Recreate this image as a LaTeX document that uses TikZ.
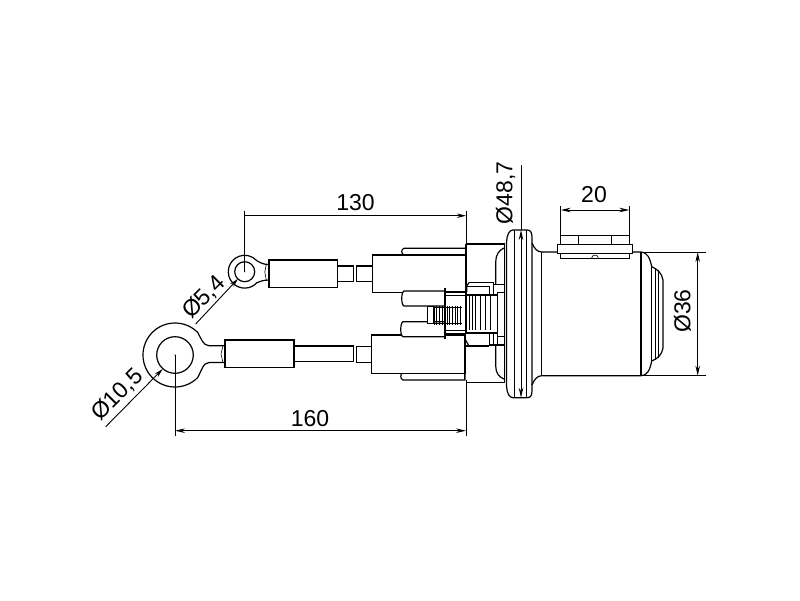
\documentclass[tikz,border=0pt]{standalone}
\usepackage{fontspec}
\setmainfont{Liberation Sans}
\usetikzlibrary{arrows.meta}
\tikzset{
  part/.style={draw=black,line width=1.2pt,fill=white},
  edge/.style={draw=black,line width=1.2pt},
  thin edge/.style={draw=black,line width=0.6pt},
  dim/.style={draw=black,line width=0.9pt},
  dimboth/.style={dim,{Stealth[length=10pt,width=4.5pt]}-{Stealth[length=10pt,width=4.5pt]}},
  dimtip/.style={dim,-{Stealth[length=9pt,width=4.5pt]}},
  dimtext/.style={font=\fontsize{23}{24}\selectfont,inner sep=0pt}
}
\begin{document}
\begin{tikzpicture}[x=1pt,y=-1pt]
  \useasboundingbox (0,0) rectangle (800,600);
  % points for the dimensions
  \coordinate (small) at (244.7,271.7);
  \coordinate (large) at (175,355);
  \coordinate (face) at (466,215.7);
  \coordinate (faceb) at (466,430.7);
  % wires
  \draw[part] (337.7,266) rectangle (353.7,281.7);
  \draw[part] (356.7,266) rectangle (372.7,281.7);
  \draw[part] (294,346) rectangle (353.7,361.7);
  \draw[part] (356.7,346.7) rectangle (372,362.3);
  % eyes
  \draw[part] (small) ++(42:16.4) arc (42:318:16.4)
    .. controls (260,262.5) and (263,264.5) .. (269,264.5) -- (269,280)
    .. controls (263,280) and (260,281.5) .. cycle;
  \draw[part] (small) circle (10);
  \draw[thin edge] (266.3,264.5) -- (264.8,272) -- (266.3,280);
  \draw[part] (large) ++(45:32) arc (45:315:32)
    .. controls (201,338) and (203,345.7) .. (209,345.7) -- (225,345.7)
    -- (225,362.5) -- (209,362.5) .. controls (203,362.5) and (201,372) .. cycle;
  \draw[part] (large) circle (18.3);
  \draw[thin edge] (223,345.7) -- (221,354) -- (223,362.5);
  % crimps
  \draw[part] (269,260) rectangle (337.7,287.3);
  \draw[part] (225,340) rectangle (294,367.3);
  % plug bodies and blades
  \draw[part] (404,248.3) .. controls (401,249) and (401,254) .. (404,255) -- (466,255) -- (466,248.3) -- cycle;
  \draw[part] (403,372.7) .. controls (400,373.5) and (400,379) .. (403,380) -- (465,380) -- (465,372.7) -- cycle;
  \draw[part] (372.7,255) rectangle (466,292.7);
  \draw[part] (371.7,335) rectangle (465,373.3);
  \draw[part] (445,291) -- (404,291) .. controls (401,292) and (401,305) .. (404,306) -- (445,306);
  \draw[part] (445,321.7) -- (403,321.7) .. controls (400,323) and (400,336) .. (403,336.7) -- (445,336.7);
  % rear housing
  \draw[edge] (466,244) -- (504.5,244);
  \draw[edge] (466,244) -- (466,293);
  \draw[edge] (464.5,338) -- (464.5,379);
  \draw[edge] (466,382.7) -- (504.5,382.7);
  \draw[edge] (504,248) .. controls (499,250) and (495.7,255) .. (495.7,262) -- (495.7,284.3);
  \draw[edge] (495.7,346) -- (495.7,366) .. controls (495.7,373) and (499,377) .. (504,379);
  \draw[edge] (504.3,244) -- (504.3,383);
  % stud with thread
  \draw[edge] (445,291.7) -- (466,291.7) (445,333.3) -- (466,333.3);
  \draw[edge] (445,288) -- (445,339);
  \draw[thin edge] (445,295) -- (466,295) (445,330) -- (466,330);
  \draw[part] (427.3,306.7) rectangle (434,323.3);
  \draw[thin edge] (434,307) -- (461.7,307) (434,323) -- (461.7,323);
  \foreach \tx in {434,436.6,...,461.7}
    \draw[thin edge] (\tx,305.5) -- (\tx,324.5);
  % nut
  \draw[edge] (466,295) -- (497.3,295) (466,333) -- (489.3,333);
  \draw[edge] (466,293) -- (466,333);
  \foreach \nx in {469.3,472.3,475,480,485,490}
    \draw[thin edge] (\nx,295) -- (\nx,330);
  \draw[edge] (469,282.7) -- (493.3,282.7) -- (493.3,295);
  \draw[edge] (469,282.7) -- (466.7,286) -- (466.7,292);
  \draw[thin edge] (466.7,286.7) -- (489,286.7) -- (489,294);
  \draw[edge] (493.3,284.3) -- (504.3,284.3);
  \draw[edge] (497.3,292.5) rectangle (504.3,336.7);
  \draw[edge] (466,346) -- (489.3,346);
  \draw[edge] (464.5,338) -- (469,346);
  \draw[part] (489.3,333) rectangle (497.3,345);
  \draw[thin edge] (493,333) -- (493,345);
  \draw[edge] (497.3,336.7) rectangle (504.3,345);
  % flange
  \draw[part] (506.5,242) .. controls (507,235) and (509,230) .. (513,230) -- (527,230)
    .. controls (531,230) and (532,233) .. (532,238) -- (532,390)
    .. controls (532,395) and (531,397.7) .. (527,397.7) -- (513,397.7)
    .. controls (509,397.7) and (507,393) .. (506.5,386) -- cycle;
  \draw[edge] (514.5,230) -- (514.5,397.7);
  \draw[edge] (526.7,230) -- (526.7,397.7);
  % barrel and end cap
  \draw[edge] (532,243) .. controls (534,248) and (537,252) .. (541.7,252) -- (641,252);
  \draw[edge] (532,385) .. controls (534,380) and (537,375.7) .. (541.7,375.7) -- (641,375.7);
  \draw[edge] (541.7,252) -- (541.7,375.7);
  \draw[edge] (641,252) -- (641,375.7);
  \draw[edge] (641,252) .. controls (647,252) and (650,258) .. (651.7,266.7)
    .. controls (657,269) and (662,273) .. (663,280) -- (663,348)
    .. controls (662,355) and (657,359) .. (651.7,361)
    .. controls (650,370) and (647,375.7) .. (641,375.7);
  \draw[thin edge] (651.7,266.7) -- (651.7,361);
  \draw[thin edge] (655,268) -- (655,360);
  \draw[thin edge] (658.5,270) -- (658.5,358);
  % clamp
  \draw[part] (560.7,235.3) rectangle (629.3,258.3);
  \draw[thin edge] (578.3,235.3) -- (578.3,244.3) (611.7,235.3) -- (611.7,244.3);
  \draw[part] (557.3,244.3) rectangle (632.7,253.3);
  \draw[thin edge] (591.5,258.3) .. controls (592,254) and (598,254) .. (598.5,258.3);
  % dimensions
  \draw[dim] (small) -- (244.7,211);
  \draw[dim] (large) -- (175,436);
  \draw[dim] (face) ++(0,-5) -- (466,244);
  \draw[dim] (466,380) -- (466,436);
  \draw[dimtip] (small |- face) -- (face);
  \node[dimtext] (len130) at (355.5,203) {130};
  \draw[dimboth] (large |- faceb) -- (faceb);
  \node[dimtext] (len160) at (310,419) {160};
  \draw[dim] (521,165) -- (521,230);
  \draw[dimboth] (521,230) -- (521,397.7);
  \node[dimtext,rotate=90] (dia487) at (505.5,193) {Ø48,7};
  \coordinate (clampa) at (560.7,210);
  \coordinate (clampb) at (629.3,210);
  \draw[dim] (clampa) ++(0,-4) -- (560.7,235.3);
  \draw[dim] (clampb) ++(0,-4) -- (629.3,235.3);
  \draw[dimboth] (clampa) -- (clampb);
  \node[dimtext] (len20) at (594,195) {20};
  \draw[dim] (641,252) -- (706,252) (641,375.7) -- (706,375.7);
  \draw[dimboth] (697.7,252) -- (697.7,375.7);
  \node[dimtext,rotate=90] (dia36) at (682.5,311) {Ø36};
  \coordinate (leada) at (195.7,324);
  \coordinate (leadb) at (105.7,426.7);
  \draw[dimtip] (leada) -- (238,278.8);
  \draw[dimtip] (leadb) -- (162.7,369);
  \node[dimtext,rotate=45] (dia54) at (204,297.5) {Ø5,4};
  \node[dimtext,rotate=45] (dia105) at (117.5,395) {Ø10,5};
  \fill (small) circle (0.7);
  \fill (large) circle (0.7);
\end{tikzpicture}
\end{document}
